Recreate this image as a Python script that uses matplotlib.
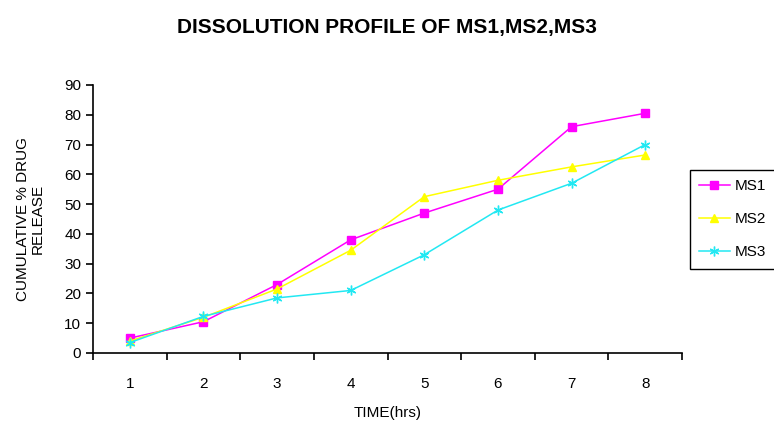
import matplotlib.pyplot as plt
from matplotlib.ticker import FixedLocator, NullFormatter

hours = [1, 2, 3, 4, 5, 6, 7, 8]
ms1 = [5, 10.5, 23, 38, 47, 55, 76, 80.5]
ms2 = [4, 12, 21.5, 34.5, 52.5, 58, 62.5, 66.5]
ms3 = [3.5, 12.3, 18.5, 21, 33, 48, 57, 70]

plt.rcParams['font.family'] = ['Liberation Sans', 'DejaVu Sans']

fig = plt.figure(figsize=(7.74, 4.30), dpi=100)
ax = fig.add_axes([93 / 774, 1 - 353 / 430, 589 / 774, 268 / 430])

ax.plot(hours, ms1, color='#ff00ff', lw=1.1, marker='s', ms=6, label='MS1')
ax.plot(hours, ms2, color='#ffff00', lw=1.1, marker='^', ms=6, label='MS2')
ax.plot(hours, ms3, color='#22e8f2', lw=1.1, marker=(6, 2, 0), ms=7, mew=1, label='MS3')

ax.set_xlim(0.5, 8.5)
ax.set_ylim(0, 90)
ax.set_yticks(range(0, 91, 10))
ax.set_xticks(hours)
ax.xaxis.set_minor_locator(FixedLocator([h + 0.5 for h in [0] + hours]))
ax.xaxis.set_minor_formatter(NullFormatter())
ax.tick_params(axis='x', which='major', length=0, pad=17, labelsize=11)
ax.tick_params(axis='x', which='minor', length=5, width=1.2)
ax.tick_params(axis='y', length=5, width=1.2, labelsize=11)
for s in ['top', 'right']:
    ax.spines[s].set_visible(False)
for s in ['left', 'bottom']:
    ax.spines[s].set_linewidth(1.2)

ax.set_xlabel('TIME(hrs)', fontsize=11, labelpad=11)
ax.set_ylabel('CUMULATIVE % DRUG\nRELEASE', fontsize=11, labelpad=14, linespacing=1.1)

fig.text(0.5, 1 - 27 / 430, 'DISSOLUTION PROFILE OF MS1,MS2,MS3',
         ha='center', va='center', fontsize=15, fontweight='bold')

fig.legend(loc='upper left', bbox_to_anchor=(690 / 774, 1 - 170 / 430),
           borderaxespad=0, fontsize=11, frameon=True, fancybox=False,
           edgecolor='black', framealpha=1, borderpad=0.6, labelspacing=1.25,
           handlelength=2.0, handletextpad=0.3)

fig.savefig('out.png', dpi=100)
